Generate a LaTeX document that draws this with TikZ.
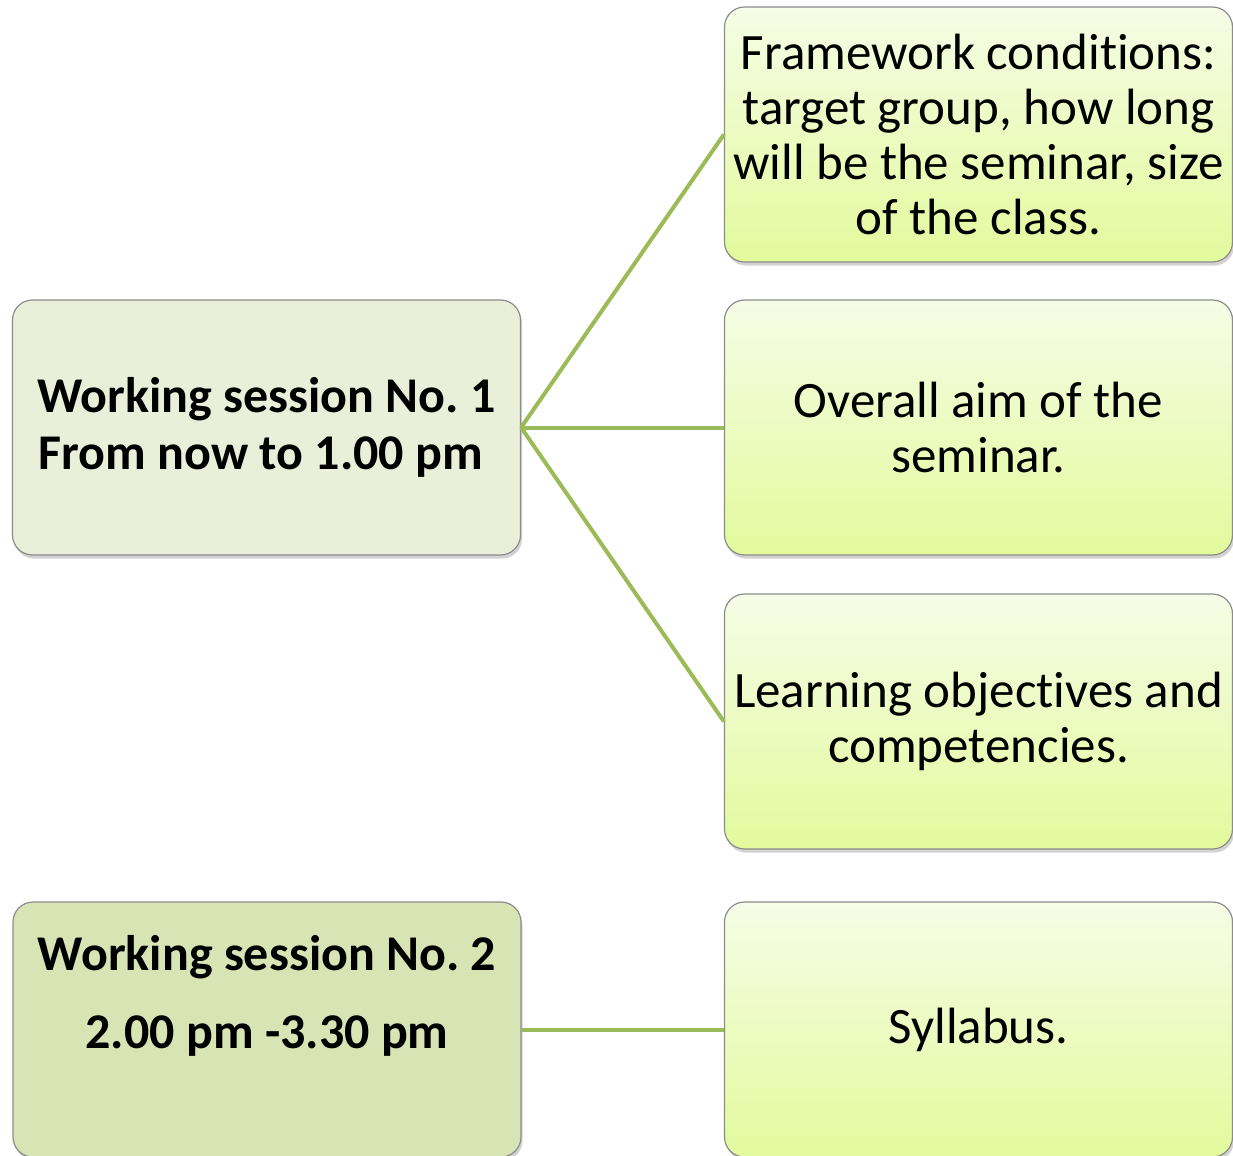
\documentclass[tikz,border=0pt]{standalone}
\usepackage{fontspec}
\setmainfont{Carlito}[Ligatures=CommonOff]
\usetikzlibrary{shadows}
\frenchspacing

\definecolor{sessionA}{HTML}{EAEFD9}
\definecolor{sessionB}{HTML}{D9E4B5}
\definecolor{topicTop}{HTML}{F6FCE6}
\definecolor{topicBot}{HTML}{E3FA9C}
\definecolor{linkgreen}{HTML}{9BBB59}
\definecolor{rim}{HTML}{8C8C8C}

\tikzset{
  box/.style={draw=rim, line width=0.6pt, rounded corners=10pt,
    minimum width=254pt, minimum height=127.5pt, inner sep=0pt,
    drop shadow={shadow xshift=0.8pt, shadow yshift=-1.8pt, opacity=0.35}},
  session/.style={box, align=center, font=\fontsize{25}{28.5}\selectfont\bfseries},
  topic/.style={box, top color=topicTop, bottom color=topicBot, align=center,
    font=\fontsize{25.5}{27.5}\selectfont},
  link/.style={draw=linkgreen, line width=2pt},
}

\begin{document}
\begin{tikzpicture}[x=0.5pt, y=-0.5pt]
  \useasboundingbox (0,0) rectangle (1233,1156);

  % sessions
  \node[session, fill=sessionA] (s1) at (266.5,427.5)
    {Working session No. 1\\From now to 1.00 pm\ \ };
  \node[session, fill=sessionB, font=\fontsize{25}{39}\selectfont\bfseries] (s2) at (267,1029.5)
    {Working session No. 2\\2.00 pm -3.30 pm\\[-13pt]\strut};

  % topics
  \node[topic] (t1) at (978.5,134.5)
    {Framework conditions:\\target group, how long\\will be the seminar, size\\of the class.};
  \node[topic] (t2) at (978.5,427.5) {Overall aim of the\\seminar.};
  \node[topic] (t3) at (978.5,721.5) {Learning objectives and\\competencies.};
  \node[topic] (t4) at (978.5,1029.5) {Syllabus.};

  \draw[link] (s1.east) -- (t1.west);
  \draw[link] (s1.east) -- (t2.west);
  \draw[link] (s1.east) -- (t3.west);
  \draw[link] (s2.east) -- (t4.west);

\end{tikzpicture}
\end{document}
